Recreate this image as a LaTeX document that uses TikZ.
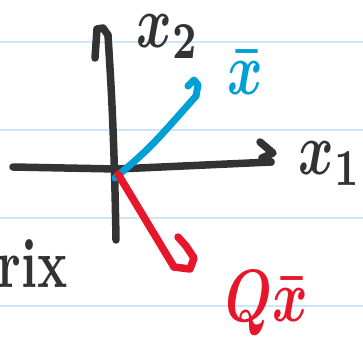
\documentclass[tikz,border=0pt]{standalone}
\usepackage{graphicx}
\definecolor{ink}{RGB}{51,51,51}
\definecolor{penblue}{RGB}{0,159,214}
\definecolor{penred}{RGB}{230,22,43}
\definecolor{ruleblue}{RGB}{205,230,248}
\newcommand{\handmath}[1]{\scalebox{5.4}[7.4]{\boldmath$#1$}}
\begin{document}
\begin{tikzpicture}[x=1pt,y=-1pt,
  ruling/.style={ruleblue,line width=2pt},
  stroke/.style={line width=7.5pt,line cap=round,line join=round},
  axisink/.style={stroke,ink},
  bluepen/.style={stroke,penblue,line width=7pt},
  redpen/.style={stroke,penred},
  hand/.style={inner sep=0pt,font=\normalsize}]
\clip (0,0) rectangle (363,349);
\useasboundingbox (0,0) rectangle (363,349);
\fill[white] (0,0) rectangle (363,349);
% ruled paper
\foreach \yy in {42,130,218,306} \draw[ruling] (0,\yy) -- (363,\yy);
% coordinates
\coordinate (O) at (117,169);
\coordinate (xl) at (13,167);
\coordinate (xr) at (271,162);
\coordinate (yt) at (108,35);
\coordinate (yb) at (116,240);
\coordinate (bt) at (196,96);
\coordinate (rt) at (174,267);
% axes
\draw[axisink] (xl) -- (O) -- (xr);
\draw[axisink] (260,142) -- (273,153) -- (262,158) -- (xr);
\draw[axisink] (yb) .. controls (114,120) and (110,70) .. (yt);
\draw[axisink] (yt) -- (103,28) -- (97,29) -- (95,58);
% blue vector
\draw[bluepen] (115,178) .. controls (150,148) .. (bt);
\draw[bluepen] (188,86) -- (194,80) -- (198,85) -- (bt);
% red vector
\draw[redpen] (118,174) -- (rt);
\draw[redpen] (rt) -- (190,269) -- (194,258) -- (186,246) -- (178,237);
% labels
\node[hand,ink] (lx2) at (168,37) {\handmath{x_2}};
\node[hand,ink] (lx1) at (330,164) {\handmath{x_1}};
\node[hand,penblue] (lxb) at (245,72) {\handmath{\bar{x}}};
\node[hand,penred] (lqx) at (267,303) {\handmath{Q\bar{x}}};
\node[hand,ink,anchor=east] (lrix) at (68,264) {\scalebox{5}[7]{\bfseries rix}};
\end{tikzpicture}
\end{document}
